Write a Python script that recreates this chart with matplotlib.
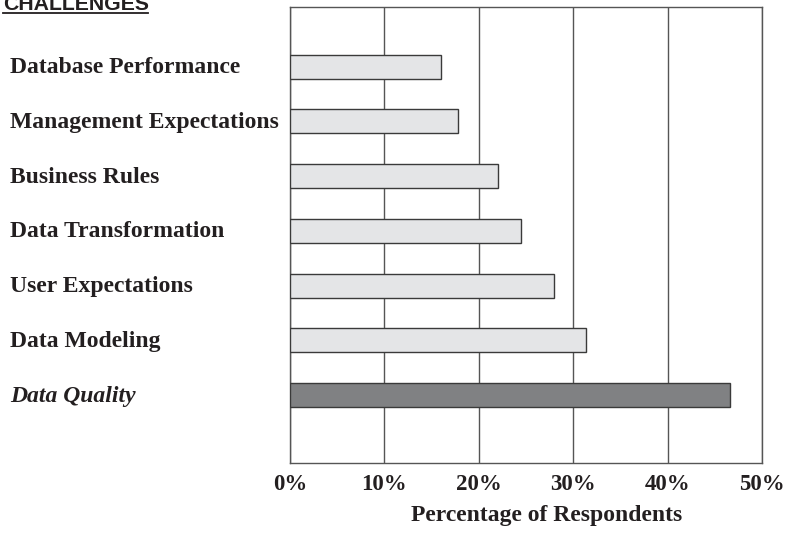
"""Challenges bar chart: percentage of respondents per challenge."""

import matplotlib

matplotlib.use("Agg")

import matplotlib.pyplot as plt  # noqa: E402
from matplotlib.lines import Line2D  # noqa: E402
from matplotlib.transforms import blended_transform_factory  # noqa: E402

# top to bottom, as in the chart
challenges = [
    "Database Performance",
    "Management Expectations",
    "Business Rules",
    "Data Transformation",
    "User Expectations",
    "Data Modeling",
    "Data Quality",
]
pct = [16, 17.8, 22, 24.5, 28, 31.4, 46.6]
highlight = "Data Quality"
x_ticks = [0, 10, 20, 30, 40, 50]

_INK = "#231f20"
_LIGHT = "#e4e5e7"
_DARK = "#808183"
_EDGE = "#3a3a3a"
_GRID = "#555555"

plt.rcParams["font.family"] = ["Liberation Serif", "DejaVu Serif"]

W, H = 786, 533
fig = plt.figure(figsize=(W / 100, H / 100), dpi=100)
ax = fig.add_axes([290 / W, (H - 463) / H, (762 - 290) / W, (463 - 7) / H])

n = len(challenges)
ypos = [n - 1 - i for i in range(n)]
colors = [_DARK if c == highlight else _LIGHT for c in challenges]
ax.barh(ypos, pct, height=0.44, color=colors, edgecolor=_EDGE, linewidth=1.0, zorder=3)

ax.set_xlim(0, 50)
ax.set_ylim(-1.24, n - 1 + 1.09)
ax.set_xticks(x_ticks)
ax.set_xticklabels([f"{t}%" for t in x_ticks], fontsize=16.5, fontweight="bold", color=_INK)
ax.set_yticks([])
ax.tick_params(axis="x", length=0, pad=8)
ax.grid(axis="x", color=_GRID, linewidth=1.0, zorder=1)
for s in ax.spines.values():
    s.set_color(_GRID)
    s.set_linewidth(1.0)

# category labels, left aligned at the figure edge
trans = blended_transform_factory(fig.transFigure, ax.transData)
for name, y in zip(challenges, ypos):
    style = "italic" if name == highlight else "normal"
    ax.text(10 / W, y - 0.02, name, transform=trans, ha="left", va="center",
            fontsize=17, fontweight="bold", fontstyle=style, color=_INK)

fig.text(547 / W, 1 - 516 / H, "Percentage of Respondents", ha="center", va="center",
         fontsize=17, fontweight="bold", color=_INK)

# underlined header, cut by the top edge
fig.text(3 / W, 1 - 10 / H, "CHALLENGES", ha="left", va="baseline",
         fontsize=15.3, fontweight="bold", color=_INK, family=["Liberation Sans", "DejaVu Sans"])
fig.add_artist(Line2D([3 / W, 148 / W], [1 - 13 / H, 1 - 13 / H], color=_INK, linewidth=1.3))

fig.savefig("out.png", dpi=100)
